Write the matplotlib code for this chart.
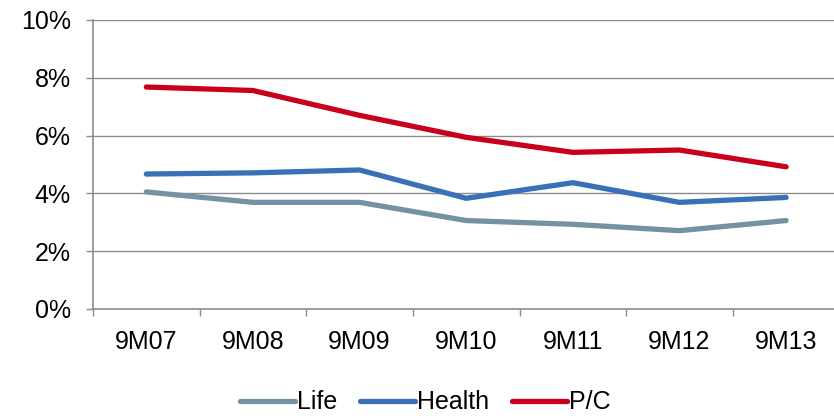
import matplotlib.pyplot as plt
from matplotlib.ticker import FuncFormatter, FixedLocator

# Ratios by period (in %)
periods = ["9M07", "9M08", "9M09", "9M10", "9M11", "9M12", "9M13"]
life = [4.05, 3.69, 3.69, 3.06, 2.93, 2.71, 3.06]
health = [4.67, 4.71, 4.81, 3.83, 4.37, 3.69, 3.86]
pc = [7.68, 7.56, 6.70, 5.94, 5.42, 5.50, 4.92]

plt.rcParams['font.family'] = ['Liberation Sans', 'DejaVu Sans']

fig = plt.figure(figsize=(8.34, 4.18), dpi=100)
ax = fig.add_axes([0.1115, 0.2608, 0.895, 0.6914])

x = range(len(periods))
ax.plot(x, life, color='#7393A0', lw=3.8, solid_capstyle='round', label='Life', zorder=3)
ax.plot(x, health, color='#3A70B5', lw=3.8, solid_capstyle='round', label='Health', zorder=3)
ax.plot(x, pc, color='#C8001E', lw=3.8, solid_capstyle='round', label='P/C', zorder=3)

ax.set_ylim(0, 10)
ax.set_xlim(-0.5, len(periods) - 0.5)
ax.set_yticks(range(0, 11, 2))
ax.yaxis.set_major_formatter(FuncFormatter(lambda v, p: f"{v:.0f}%"))
ax.set_xticks(list(x))
ax.set_xticklabels(periods)
ax.xaxis.set_minor_locator(FixedLocator([i - 0.5 for i in range(len(periods))]))

ax.grid(axis='y', color='#8C8C8C', lw=1)
ax.set_axisbelow(True)
for s in ['top', 'right']:
    ax.spines[s].set_visible(False)
for s in ['left', 'bottom']:
    ax.spines[s].set_color('#8C8C8C')
    ax.spines[s].set_linewidth(1.2)

ax.tick_params(axis='y', length=5, width=1, color='#8C8C8C', labelsize=18, pad=11)
ax.tick_params(axis='x', which='major', length=0, labelsize=18, pad=15)
ax.tick_params(axis='x', which='minor', length=5, width=1, color='#8C8C8C')

fig.legend(loc='lower center', bbox_to_anchor=(0.51, -0.045), ncol=3, frameon=False,
           fontsize=18, handlelength=2.2, handletextpad=0.1, columnspacing=0.9)

fig.savefig('out.png', dpi=100)
